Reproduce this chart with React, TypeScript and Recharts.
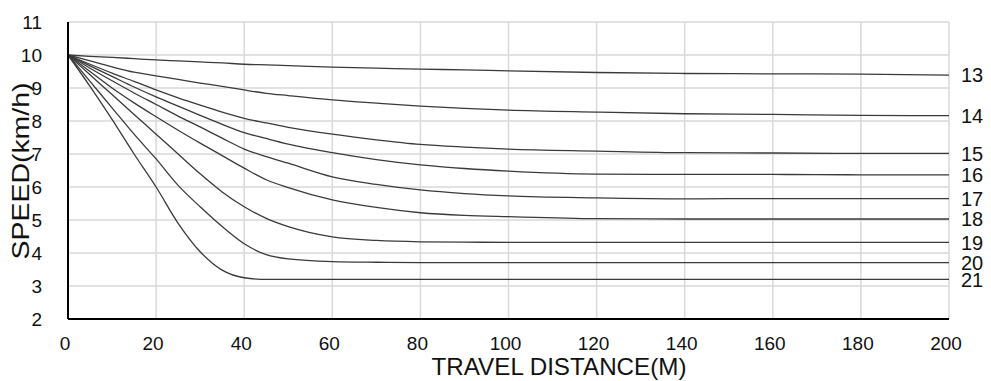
import React from "react";
import { LineChart, Line, XAxis, YAxis, CartesianGrid, LabelList } from "recharts";

const distance = [0, 5, 10, 15, 20, 25, 30, 35, 40, 45, 50, 60, 70, 80, 90, 100, 120, 140, 160, 180, 200];
const speed13 = [10, 9.96, 9.93, 9.89, 9.85, 9.82, 9.79, 9.76, 9.72, 9.7, 9.68, 9.63, 9.6, 9.57, 9.55, 9.52, 9.47, 9.44, 9.43, 9.42, 9.39];
const speed14 = [10, 9.82, 9.64, 9.48, 9.37, 9.26, 9.15, 9.05, 8.94, 8.84, 8.77, 8.64, 8.54, 8.45, 8.38, 8.33, 8.27, 8.22, 8.2, 8.17, 8.16];
const speed15 = [10, 9.72, 9.45, 9.2, 8.94, 8.7, 8.48, 8.27, 8.08, 7.94, 7.81, 7.6, 7.43, 7.29, 7.21, 7.15, 7.09, 7.04, 7.03, 7.02, 7.02];
const speed16 = [10, 9.67, 9.35, 9.03, 8.73, 8.45, 8.17, 7.9, 7.65, 7.47, 7.3, 7.04, 6.83, 6.67, 6.56, 6.48, 6.39, 6.38, 6.38, 6.37, 6.37];
const speed17 = [10, 9.6, 9.22, 8.85, 8.5, 8.15, 7.82, 7.48, 7.15, 6.92, 6.72, 6.31, 6.08, 5.91, 5.8, 5.73, 5.67, 5.64, 5.65, 5.65, 5.65];
const speed18 = [10, 9.5, 9.0, 8.55, 8.13, 7.72, 7.33, 6.95, 6.57, 6.22, 5.98, 5.61, 5.38, 5.22, 5.14, 5.1, 5.04, 5.03, 5.03, 5.03, 5.03];
const speed19 = [10, 9.4, 8.8, 8.2, 7.6, 7.0, 6.4, 5.85, 5.4, 5.05, 4.8, 4.49, 4.38, 4.34, 4.33, 4.32, 4.32, 4.32, 4.32, 4.32, 4.32];
const speed20 = [10, 9.2, 8.4, 7.6, 6.85, 6.05, 5.4, 4.8, 4.28, 3.95, 3.82, 3.74, 3.72, 3.71, 3.71, 3.71, 3.71, 3.71, 3.71, 3.71, 3.71];
const speed21 = [10, 9.05, 8.05, 7.0, 6.0, 4.9, 4.04, 3.48, 3.25, 3.2, 3.2, 3.2, 3.2, 3.2, 3.2, 3.2, 3.2, 3.2, 3.2, 3.2, 3.2];

const seriesNames = ["13", "14", "15", "16", "17", "18", "19", "20", "21"];
const seriesValues = [speed13, speed14, speed15, speed16, speed17, speed18, speed19, speed20, speed21];

const xTicks = [0, 20, 40, 60, 80, 100, 120, 140, 160, 180, 200];
const yTicks = [2, 3, 4, 5, 6, 7, 8, 9, 10, 11];

const xTitle = "TRAVEL DISTANCE(M)";
const yTitle = "SPEED(km/h)";

const data = distance.map((d, i) => {
  const row: Record<string, number> = { d };
  seriesNames.forEach((n, k) => {
    row["s" + n] = seriesValues[k][i];
  });
  return row;
});

const FONT = "'Liberation Sans', Arial, sans-serif";
const lastIndex = distance.length - 1;

export default function App() {
  return (
    <div style={{ position: "absolute", left: 0, top: 0, width: 991, height: 381, background: "#fff" }}>
      <LineChart width={991} height={381} data={data} margin={{ top: 22, right: 42, left: 0, bottom: 0 }}>
        <CartesianGrid stroke="#d9d9d9" strokeWidth={1.5} horizontal vertical />
        <XAxis
          dataKey="d"
          type="number"
          domain={[0, 200]}
          ticks={xTicks}
          height={62}
          tickSize={0}
          tickMargin={18}
          axisLine={{ stroke: "#000", strokeWidth: 2 }}
          tick={{ fontSize: 19, fill: "#111", fontFamily: FONT, dx: -3 }}
          label={{
            content: () => (
              <text x={559} y={375} textAnchor="middle" fontSize={24} fill="#111" fontFamily={FONT} textLength={255} lengthAdjust="spacingAndGlyphs">
                {xTitle}
              </text>
            ),
          }}
        />
        <YAxis
          type="number"
          domain={[2, 11]}
          ticks={yTicks}
          width={68}
          tickSize={0}
          tickMargin={26}
          interval={0}
          axisLine={{ stroke: "#000", strokeWidth: 2 }}
          tick={{ fontSize: 19, fill: "#111", fontFamily: FONT }}
          label={{
            content: () => (
              <text x={29} y={171} transform="rotate(-90 29 171)" textAnchor="middle" fontSize={24} fill="#111" fontFamily={FONT} textLength={177} lengthAdjust="spacingAndGlyphs">
                {yTitle}
              </text>
            ),
          }}
        />
        {seriesNames.map((n) => (
          <Line
            key={n}
            type="monotone"
            dataKey={"s" + n}
            stroke="#3a3a3a"
            strokeWidth={1.3}
            dot={false}
            activeDot={false}
            isAnimationActive={false}
          >
            <LabelList
              dataKey={"s" + n}
              content={(p: any) =>
                p.index === lastIndex ? (
                  <text x={Number(p.x) + 12} y={Number(p.y)} dy="0.36em" textAnchor="start" fontSize={20} fill="#111" fontFamily={FONT}>
                    {n}
                  </text>
                ) : null
              }
            />
          </Line>
        ))}
      </LineChart>
    </div>
  );
}
